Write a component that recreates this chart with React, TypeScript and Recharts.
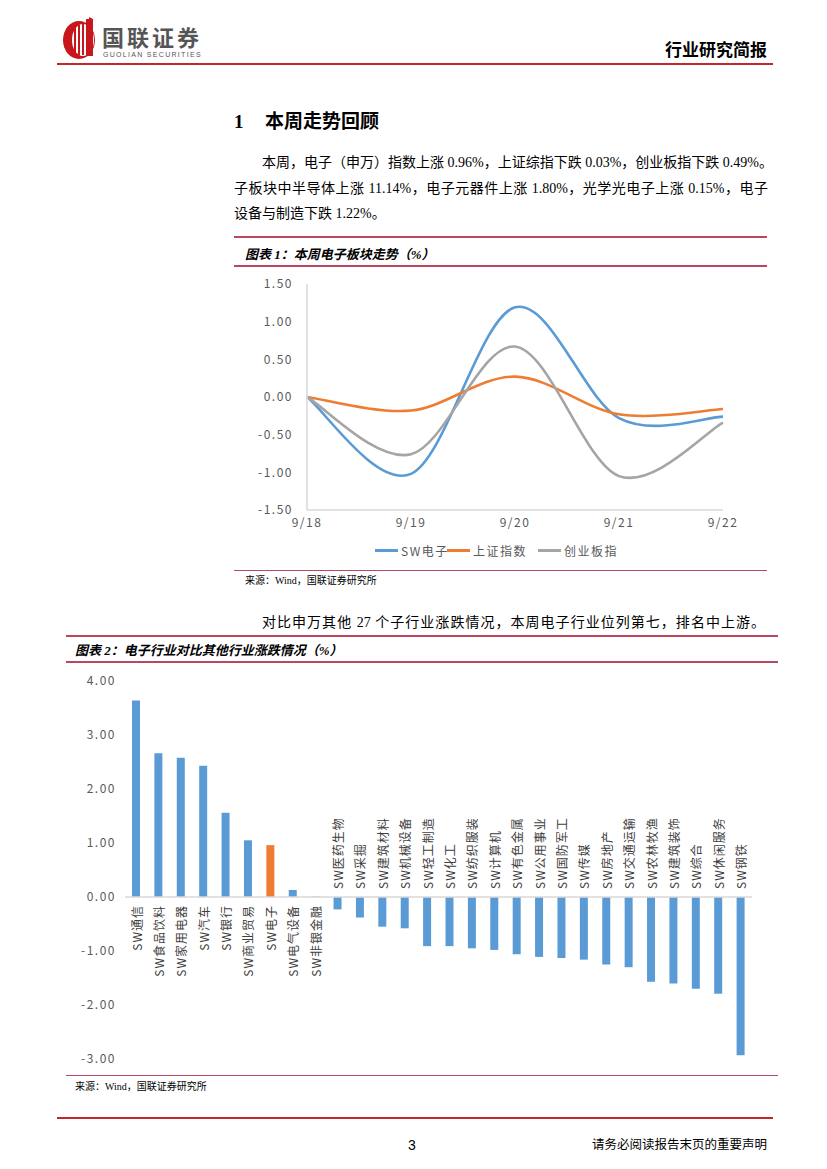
import React from 'react';
import {
  LineChart,
  Line,
  XAxis,
  YAxis,
  Legend,
  BarChart,
  Bar,
  Cell,
  ReferenceLine,
  LabelList,
} from 'recharts';

// ---------- Chart 1 data ----------
const dates = ['9/18', '9/19', '9/20', '9/21', '9/22'];
const swElectronics = [0, -1.02, 1.19, -0.28, -0.26];
const shComposite = [0, -0.18, 0.27, -0.23, -0.16];
const chiNext = [0, -0.76, 0.67, -1.05, -0.34];
const lineTicks = [-1.5, -1, -0.5, 0, 0.5, 1, 1.5];
const seriesNames = ['SW电子', '上证指数', '创业板指'];

// ---------- Chart 2 data ----------
const industries = [
  'SW通信', 'SW食品饮料', 'SW家用电器', 'SW汽车', 'SW银行', 'SW商业贸易', 'SW电子',
  'SW电气设备', 'SW非银金融', 'SW医药生物', 'SW采掘', 'SW建筑材料', 'SW机械设备',
  'SW轻工制造', 'SW化工', 'SW纺织服装', 'SW计算机', 'SW有色金属', 'SW公用事业',
  'SW国防军工', 'SW传媒', 'SW房地产', 'SW交通运输', 'SW农林牧渔', 'SW建筑装饰',
  'SW综合', 'SW休闲服务', 'SW钢铁',
];
const industryChanges = [
  3.64, 2.66, 2.58, 2.43, 1.56, 1.05, 0.96,
  0.13, 0.01, -0.23, -0.38, -0.55, -0.58,
  -0.91, -0.91, -0.95, -0.98, -1.06, -1.11,
  -1.13, -1.16, -1.25, -1.3, -1.57, -1.6,
  -1.7, -1.79, -2.93,
];
const barTicks = [-3, -2, -1, 0, 1, 2, 3, 4];
const highlightIndustry = 'SW电子';

const BLUE = '#5B9BD5';
const ORANGE = '#ED7D31';
const GRAY = '#A5A5A5';
const seriesColors = [BLUE, ORANGE, GRAY];
const seriesKeys = ['sw', 'sh', 'cy'];

const lineData = dates.map((d, i) => ({
  date: d,
  sw: swElectronics[i],
  sh: shComposite[i],
  cy: chiNext[i],
}));
const barData = industries.map((n, i) => ({ name: n, value: industryChanges[i] }));

// Excel-like smoothed line (Catmull-Rom as cubic Bezier)
function excelSmooth(context: any) {
  let pts: number[][] = [];
  return {
    areaStart() {},
    areaEnd() {},
    lineStart() {
      pts = [];
    },
    lineEnd() {
      const n = pts.length;
      if (n === 0) return;
      context.moveTo(pts[0][0], pts[0][1]);
      for (let i = 0; i < n - 1; i++) {
        const p0 = pts[Math.max(i - 1, 0)];
        const p1 = pts[i];
        const p2 = pts[i + 1];
        const p3 = pts[Math.min(i + 2, n - 1)];
        context.bezierCurveTo(
          p1[0] + (p2[0] - p0[0]) / 6,
          p1[1] + (p2[1] - p0[1]) / 6,
          p2[0] - (p3[0] - p1[0]) / 6,
          p2[1] - (p3[1] - p1[1]) / 6,
          p2[0],
          p2[1]
        );
      }
    },
    point(x: number, y: number) {
      pts.push([+x, +y]);
    },
  };
}

const CJK = "'Liberation Serif', 'Noto Sans CJK SC', serif";
const AXISFONT = "'Noto Sans CJK SC', 'Liberation Sans', sans-serif";
const RULE = '#B9475F';

const fmt2 = (v: number) => v.toFixed(2);

function LineLegend() {
  return (
    <div style={{ position: 'relative', width: 520, height: 20 }}>
      {seriesNames.map((name, i) => {
        const lefts = [145, 217, 308];
        return (
          <div
            key={name}
            style={{
              position: 'absolute',
              left: lefts[i],
              top: 0,
              height: 20,
              display: 'flex',
              alignItems: 'center',
              fontFamily: AXISFONT,
              fontSize: 12,
              color: '#595959',
              letterSpacing: 1.5,
              whiteSpace: 'nowrap',
            }}
          >
            <span
              style={{
                display: 'inline-block',
                width: 23,
                height: 3,
                background: seriesColors[i],
                marginRight: 3,
              }}
            />
            {name}
          </div>
        );
      })}
    </div>
  );
}

const renderCategoryLabel = (props: any) => {
  const { x, y, width, height, value } = props;
  const item = barData.find((d) => d.name === value);
  const v = item ? item.value : 0;
  const cx = Number(x) + Number(width) / 2;
  const y1 = Number(y);
  const y2 = Number(y) + Number(height);
  const top = Math.min(y1, y2);
  const bottom = Math.max(y1, y2);
  if (v >= 0) {
    const ay = bottom + 8;
    return (
      <text
        x={cx}
        y={ay}
        transform={`rotate(-90 ${cx} ${ay})`}
        textAnchor="end"
        dominantBaseline="central"
        fontSize={12}
        fontFamily={AXISFONT}
        fill="#404040"
        letterSpacing={1}
      >
        {value}
      </text>
    );
  }
  const ay = top - 8;
  return (
    <text
      x={cx}
      y={ay}
      transform={`rotate(-90 ${cx} ${ay})`}
      textAnchor="start"
      dominantBaseline="central"
      fontSize={12}
      fontFamily={AXISFONT}
      fill="#404040"
      letterSpacing={1}
    >
      {value}
    </text>
  );
};

function Txt(props: {
  left: number;
  cy: number;
  size: number;
  children: React.ReactNode;
  width?: number;
  justify?: boolean;
  style?: React.CSSProperties;
}) {
  const { left, cy, size, children, width, justify, style } = props;
  return (
    <div
      style={{
        position: 'absolute',
        left,
        top: cy - size / 2,
        height: size,
        lineHeight: `${size}px`,
        fontSize: size,
        width,
        whiteSpace: 'nowrap',
        textAlign: justify ? 'justify' : 'left',
        textAlignLast: justify ? 'justify' : 'auto',
        color: '#000',
        ...style,
      }}
    >
      {children}
    </div>
  );
}

function HLine(props: { x1: number; x2: number; y: number; color: string; w: number }) {
  const { x1, x2, y, color, w } = props;
  return (
    <div
      style={{
        position: 'absolute',
        left: x1,
        top: y - w / 2,
        width: x2 - x1,
        height: w,
        background: color,
      }}
    />
  );
}

export default function App() {
  return (
    <div
      style={{
        position: 'absolute',
        left: 0,
        top: 0,
        width: 827,
        height: 1169,
        background: '#fff',
        overflow: 'hidden',
        fontFamily: CJK,
      }}
    >
      {/* Header logo */}
      <svg style={{ position: 'absolute', left: 55, top: 17 }} width={170} height={46}>
        <ellipse cx={24} cy={23} rx={16} ry={19} fill="#C8161D" />
        <ellipse cx={28} cy={23} rx={11} ry={16} fill="#fff" />
        <rect x={19} y={11} width={2} height={26} fill="#C8161D" />
        <rect x={23} y={8} width={2} height={30} fill="#C8161D" />
        <rect x={27} y={5} width={2} height={33} fill="#C8161D" />
        <rect x={31} y={2} width={3} height={37} fill="#C8161D" />
        <polygon points="34,0 38,2 38,39 34,39" fill="#C8161D" />
        <text x={47} y={29} fontSize={22} fontWeight={700} fill="#555" fontFamily={AXISFONT} letterSpacing={3}>
          国联证券
        </text>
        <text x={48} y={39.5} fontSize={7} fill="#555" fontFamily="'Liberation Sans', sans-serif" letterSpacing={1.3}>
          GUOLIAN SECURITIES
        </text>
      </svg>
      <Txt left={665} cy={50} size={17} style={{ fontWeight: 700 }}>
        行业研究简报
      </Txt>
      <HLine x1={57} x2={773} y={64} color="#C0282D" w={2} />

      {/* Section heading */}
      <Txt left={234} cy={121} size={19} style={{ fontWeight: 700 }}>
        1
      </Txt>
      <Txt left={265} cy={121} size={19} style={{ fontWeight: 700 }}>
        本周走势回顾
      </Txt>

      {/* Paragraph */}
      <Txt left={262} cy={163} size={14} width={506} justify>
        本周，电子（申万）指数上涨 0.96%，上证综指下跌 0.03%，创业板指下跌 0.49%。
      </Txt>
      <Txt left={234} cy={189} size={14} width={534} justify>
        子板块中半导体上涨 11.14%，电子元器件上涨 1.80%，光学光电子上涨 0.15%，电子
      </Txt>
      <Txt left={234} cy={214} size={14}>
        设备与制造下跌 1.22%。
      </Txt>

      {/* Chart 1 title */}
      <HLine x1={234} x2={767} y={237} color={RULE} w={1.5} />
      <Txt left={245} cy={254} size={13} style={{ fontWeight: 700, fontStyle: 'italic' }}>
        图表 1：本周电子板块走势（%）
      </Txt>
      <HLine x1={234} x2={767} y={266} color={RULE} w={1.5} />

      {/* Chart 1 */}
      <div style={{ position: 'absolute', left: 230, top: 270 }}>
        <LineChart width={520} height={300} data={lineData} margin={{ top: 14, right: 27, left: 0, bottom: 10 }}>
          <XAxis
            dataKey="date"
            axisLine={{ stroke: '#D9D9D9', strokeWidth: 1.5 }}
            tickLine={false}
            tick={{ fontSize: 12, fill: '#595959', fontFamily: AXISFONT, letterSpacing: 1.5 }}
            interval={0}
            height={30}
          />
          <YAxis
            domain={[-1.5, 1.5]}
            ticks={lineTicks}
            tickFormatter={fmt2}
            axisLine={{ stroke: '#D9D9D9', strokeWidth: 1.5 }}
            tickLine={false}
            tickMargin={8}
            width={77}
            tick={{ fontSize: 12, fill: '#595959', fontFamily: AXISFONT, letterSpacing: 1.5 }}
          />
          {seriesKeys.map((k, i) => (
            <Line
              key={k}
              dataKey={k}
              name={seriesNames[i]}
              type={excelSmooth as any}
              stroke={seriesColors[i]}
              strokeWidth={2.6}
              dot={false}
              activeDot={false}
              isAnimationActive={false}
            />
          ))}
          <Legend verticalAlign="bottom" height={20} content={() => <LineLegend />} wrapperStyle={{ left: 0, width: 520 }} />
        </LineChart>
      </div>

      {/* Chart 1 source */}
      <HLine x1={234} x2={767} y={570} color={RULE} w={1} />
      <Txt left={245} cy={581} size={10}>
        来源：Wind，国联证券研究所
      </Txt>

      {/* Paragraph 2 */}
      <Txt left={262} cy={623} size={14} width={503} justify>
        对比申万其他 27 个子行业涨跌情况，本周电子行业位列第七，排名中上游。
      </Txt>

      {/* Chart 2 title */}
      <HLine x1={66} x2={778} y={636} color={RULE} w={1.5} />
      <Txt left={75} cy={650} size={13} style={{ fontWeight: 700, fontStyle: 'italic' }}>
        图表 2：电子行业对比其他行业涨跌情况（%）
      </Txt>
      <HLine x1={66} x2={778} y={662} color={RULE} w={1.5} />

      {/* Chart 2 */}
      <div style={{ position: 'absolute', left: 60, top: 665 }}>
        <BarChart width={720} height={410} data={barData} margin={{ top: 16, right: 28, left: 0, bottom: 16 }}>
          <XAxis dataKey="name" hide />
          <YAxis
            domain={[-3, 4]}
            ticks={barTicks}
            tickFormatter={fmt2}
            axisLine={false}
            tickLine={false}
            tickMargin={3}
            width={65}
            tick={{ fontSize: 12, fill: '#595959', fontFamily: AXISFONT, letterSpacing: 1.5 }}
          />
          <ReferenceLine y={0} stroke="#D9D9D9" strokeWidth={1.5} />
          <Bar dataKey="value" barSize={8} isAnimationActive={false}>
            {barData.map((d) => (
              <Cell key={d.name} fill={d.name === highlightIndustry ? ORANGE : BLUE} />
            ))}
            <LabelList dataKey="name" content={renderCategoryLabel} />
          </Bar>
        </BarChart>
      </div>

      {/* Chart 2 source */}
      <HLine x1={66} x2={778} y={1075} color={RULE} w={1} />
      <Txt left={75} cy={1087} size={10}>
        来源：Wind，国联证券研究所
      </Txt>

      {/* Footer */}
      <HLine x1={57} x2={773} y={1118} color="#C0282D" w={2} />
      <Txt left={408} cy={1145} size={14} style={{ fontFamily: "'Liberation Sans', sans-serif" }}>
        3
      </Txt>
      <Txt left={592} cy={1145} size={12.5}>
        请务必阅读报告末页的重要声明
      </Txt>
    </div>
  );
}
